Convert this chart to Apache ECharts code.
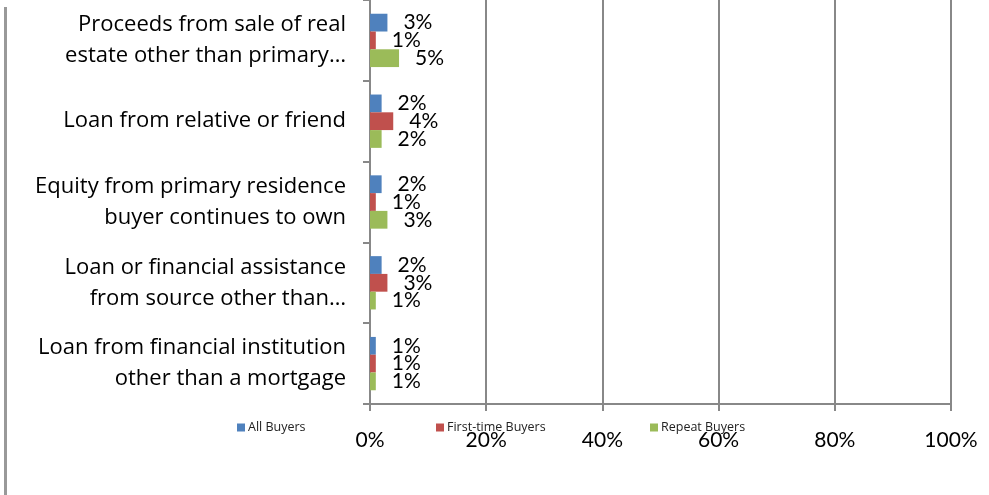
<!DOCTYPE html>
<html>
<head>
<meta charset="utf-8">
<script src="https://cdn.jsdelivr.net/npm/echarts@6/dist/echarts.min.js"></script>
<style>html,body{margin:0;padding:0;background:#fff;}#c{width:989px;height:495px;}</style>
</head>
<body>
<div id="c"></div>
<script>
var categories = [
  "Proceeds from sale of real\nestate other than primary…",
  "Loan from relative or friend",
  "Equity from primary residence\nbuyer continues to own",
  "Loan or financial assistance\nfrom source other than…",
  "Loan from financial institution\nother than a mortgage"
];
var seriesNames = ["All Buyers", "First-time Buyers", "Repeat Buyers"];
var allBuyers = [3, 2, 2, 2, 1];
var firstTimeBuyers = [1, 4, 1, 3, 1];
var repeatBuyers = [5, 2, 3, 1, 1];
var xTicks = [0, 20, 40, 60, 80, 100];
var colors = ["#4F81BD", "#C0504D", "#9BBB59"];

var FONT = "Lato";
var CATFONT = "Open Sans";
var LEGFONT = "Open Sans";

function draw() {
  var chart = echarts.init(document.getElementById('c'), null, {renderer: 'canvas'});
  var values = [allBuyers, firstTimeBuyers, repeatBuyers];
  var series = seriesNames.map(function (n, i) {
    return {
      name: n,
      type: 'bar',
      data: values[i],
      itemStyle: {color: colors[i]},
      barGap: '0%',
      barCategoryGap: '34%',
      label: {
        show: true,
        position: 'right',
        distance: 16,
        formatter: '{c}%',
        color: '#000',
        fontFamily: FONT,
        fontSize: 21
      }
    };
  });
  var legendLefts = [237, 436, 650];
  var legends = seriesNames.map(function (n, i) {
    return {
      data: [n],
      left: legendLefts[i],
      top: 421,
      itemWidth: 8,
      itemHeight: 8,
      itemGap: 0,
      padding: 0,
      icon: 'rect',
      textStyle: {fontFamily: LEGFONT, fontSize: 12.5, color: '#222', padding: [0, 0, 0, -2]}
    };
  });
  chart.setOption({
    animation: false,
    backgroundColor: '#fff',
    legend: legends,
    grid: {left: 370, top: 0, right: 38, bottom: 91, containLabel: false},
    xAxis: {
      type: 'value',
      min: 0,
      max: 100,
      interval: 20,
      axisLine: {show: true, lineStyle: {color: '#888', width: 2}},
      axisTick: {show: true, length: 7, lineStyle: {color: '#888', width: 2}},
      splitLine: {show: true, lineStyle: {color: '#888', width: 2}},
      axisLabel: {
        margin: 26,
        fontFamily: FONT,
        fontSize: 21,
        color: '#000',
        formatter: function (v) { return xTicks.indexOf(v) >= 0 ? v + '%' : ''; }
      }
    },
    yAxis: {
      type: 'category',
      inverse: true,
      data: categories,
      axisLine: {show: true, lineStyle: {color: '#888', width: 2}},
      axisTick: {show: true, length: 7, lineStyle: {color: '#888', width: 2}},
      axisLabel: {
        margin: 24,
        fontFamily: CATFONT,
        fontSize: 22,
        lineHeight: 31,
        color: '#000',
        align: 'right'
      }
    },
    graphic: [{
      type: 'line',
      shape: {x1: 5.5, y1: 7, x2: 5.5, y2: 495},
      style: {stroke: '#999', lineWidth: 3}
    }],
    series: series
  });
}

if (document.fonts && document.fonts.load) {
  Promise.all([
    document.fonts.load('21px "Lato"'),
    document.fonts.load('22px "Open Sans"'),
    document.fonts.load('12px "Open Sans"')
  ]).then(draw, draw);
} else {
  draw();
}
</script>
</body>
</html>
